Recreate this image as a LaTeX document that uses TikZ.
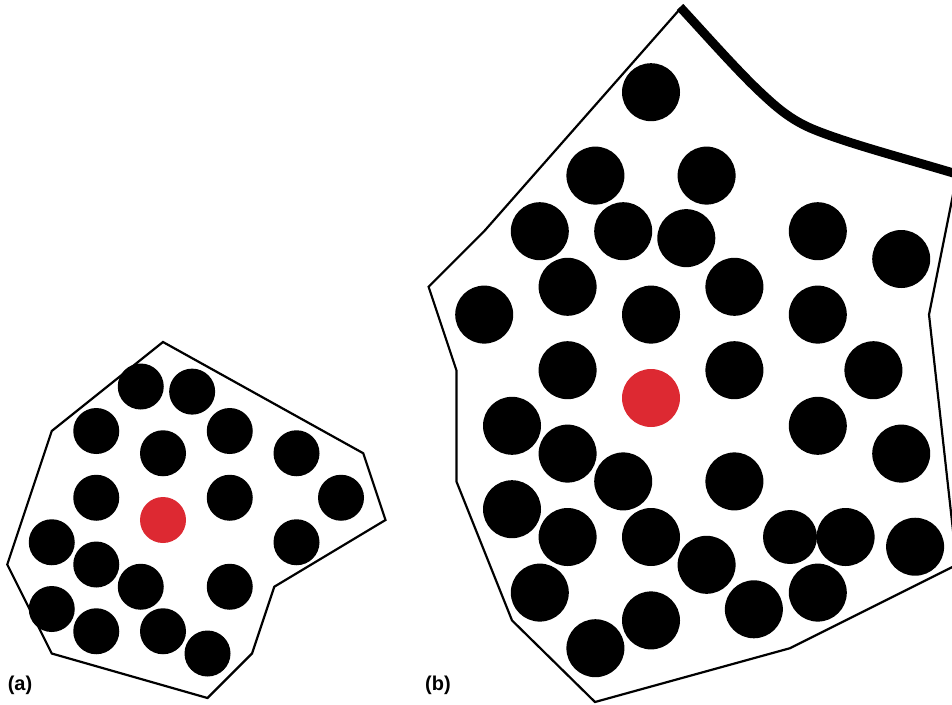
\documentclass[tikz,border=0pt]{standalone}
\usepackage{fontspec}
\setmainfont{Liberation Sans}
\definecolor{dotred}{RGB}{221,41,50}
\begin{document}
\begin{tikzpicture}[x=1pt,y=-1pt,
  discA/.style={circle,fill=black,inner sep=0pt,minimum size=46pt},
  discB/.style={circle,fill=black,inner sep=0pt,minimum size=58pt},
  centreA/.style={discA,fill=dotred},
  centreB/.style={discB,fill=dotred},
  cell/.style={draw=black,line width=2.2pt,line join=miter},
  thickedge/.style={draw=black,line width=9pt,line cap=butt},
  panellabel/.style={font=\bfseries\fontsize{20}{20}\selectfont,inner sep=0pt}]
\useasboundingbox (0,0) rectangle (952,704);
\begin{scope}
\clip (0,0) rectangle (952,704);
% ---------- panel (a) ----------
\begin{scope}[shift={(163pt,-520pt)},x=22.25pt,y=-22.25pt]
  \draw[cell] (0,-8) -- (9,-3) -- (10,0) -- (5,3) -- (4,6) -- (2,8) -- (-5,6) -- (-7,2) -- (-5,-4) -- cycle;
  \foreach \px/\py [count=\i] in {-1/-6,1.31/-5.77,-3/-4,3/-4,0/-3,6/-3,-3/-1,3/-1,8/-1,-5/1,6/1,-3/2,-1/3,3/3,-5/4,-3/5,0/5,2/6}
    \node[discA] (a\i) at (\px,\py) {};
  \node[centreA] (a0) at (0,0) {};
\end{scope}
% ---------- panel (b) ----------
\draw[cell] (680,9) -- (484.2,231.2) -- (428.6,286.8) -- (456.4,370.2) -- (456.4,481.4) -- (512,620.4) -- (595,702) -- (790,648.2) -- (956.8,564.8);
\draw[cell] (956.8,175.6) -- (929,314.6) -- (956.8,564.8);
\draw[thickedge] (680,7) .. controls (705,34) and (735,68) .. (758,90)
  .. controls (775,106) and (790,120) .. (815,130)
  .. controls (850,144) and (900,157) .. (960,175);
\begin{scope}[shift={(651pt,-398pt)},x=27.8pt,y=-27.8pt]
  \foreach \px/\py [count=\i] in {0/-11,-2/-8,2/-8,-4/-6,-1/-6,1.27/-5.75,6/-6,9/-5,-3/-4,3/-4,-6/-3,0/-3,6/-3,-3/-1,3/-1,8/-1,-5/1,6/1,-3/2,9/2,-1/3,3/3,-5/4,-3/5,0/5,7/5,9.5/5.35,2/6,-4/7,6/7,3.7/7.6,0/8,-2/9}
    \node[discB] (b\i) at (\px,\py) {};
  \node[discB,minimum size=54pt] (bs) at (5,5) {};
  \node[centreB] (b0) at (0,0) {};
\end{scope}
\end{scope}
\node[panellabel] (la) at (20,685.5) {(a)};
\node[panellabel] (lb) at (438,685) {(b)};
\end{tikzpicture}
\end{document}
